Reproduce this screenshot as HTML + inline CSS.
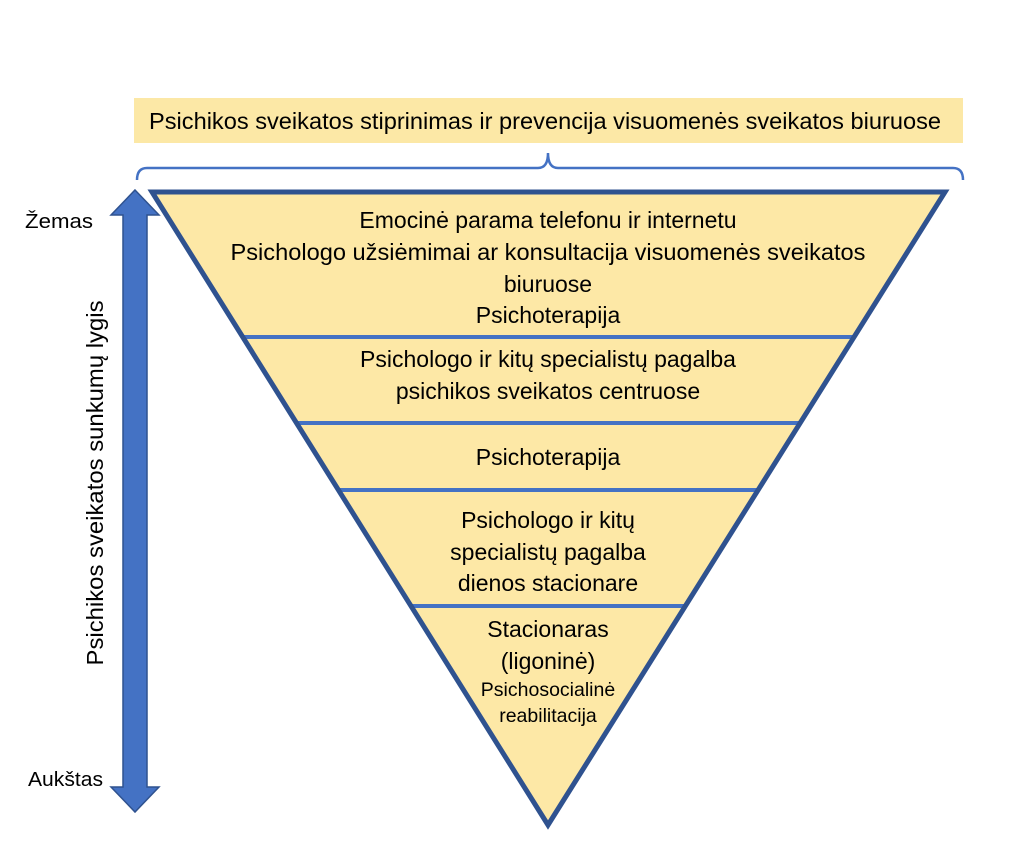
<!DOCTYPE html>
<html><head><meta charset="utf-8"><style>
body{margin:0;background:#fff;}
svg text{font-family:"Liberation Sans",sans-serif;fill:#000;}
</style></head><body>
<svg width="1024" height="858" viewBox="0 0 1024 858" xmlns="http://www.w3.org/2000/svg">
<rect x="134" y="98" width="829" height="45" fill="#fce8a6"/>
<text x="545" y="129" font-size="23" text-anchor="middle" textLength="792" lengthAdjust="spacingAndGlyphs">Psichikos sveikatos stiprinimas ir prevencija visuomenės sveikatos biuruose</text>
<path d="M137 180 Q137 168 147 168 L538 168 Q548 168 548 153 Q548 168 558 168 L953 168 Q963 168 963 180" fill="none" stroke="#4472c4" stroke-width="2.5"/>
<defs><clipPath id="tri"><polygon points="152,192 945,192 548,825"/></clipPath></defs>
<polygon points="152,192 945,192 548,825" fill="#fde8a6"/>
<g clip-path="url(#tri)" stroke="#4472c4" stroke-width="4">
<line x1="100" y1="337" x2="1000" y2="337"/>
<line x1="100" y1="423" x2="1000" y2="423"/>
<line x1="100" y1="490" x2="1000" y2="490"/>
<line x1="100" y1="606" x2="1000" y2="606"/>
</g>
<polygon points="152,192 945,192 548,825" fill="none" stroke="#2f528f" stroke-width="5" stroke-linejoin="miter"/>
<g font-size="23" text-anchor="middle">
<text x="548" y="228">Emocinė parama telefonu ir internetu</text>
<text x="548" y="260" textLength="635" lengthAdjust="spacingAndGlyphs">Psichologo užsiėmimai ar konsultacija visuomenės sveikatos</text>
<text x="548" y="292">biuruose</text>
<text x="548" y="323">Psichoterapija</text>
<text x="548" y="367">Psichologo ir kitų specialistų pagalba</text>
<text x="548" y="399">psichikos sveikatos centruose</text>
<text x="548" y="465">Psichoterapija</text>
<text x="548" y="528">Psichologo ir kitų</text>
<text x="548" y="560">specialistų pagalba</text>
<text x="548" y="591">dienos stacionare</text>
<text x="548" y="637">Stacionaras</text>
<text x="548" y="669">(ligoninė)</text>
<text x="548" y="696" font-size="19.5">Psichosocialinė</text>
<text x="548" y="722" font-size="19.5">reabilitacija</text>
</g>
<polygon points="135,190 159,215 147,215 147,787 159,787 135,812 111,787 123,787 123,215 111,215" fill="#4472c4" stroke="#2f528f" stroke-width="1.5"/>
<text x="25" y="228" font-size="20" textLength="68" lengthAdjust="spacingAndGlyphs">Žemas</text>
<text x="28" y="786" font-size="20" textLength="75" lengthAdjust="spacingAndGlyphs">Aukštas</text>
<text transform="translate(103,483) rotate(-90)" font-size="23" text-anchor="middle" textLength="365" lengthAdjust="spacingAndGlyphs">Psichikos sveikatos sunkumų lygis</text>
</svg>
</body></html>
